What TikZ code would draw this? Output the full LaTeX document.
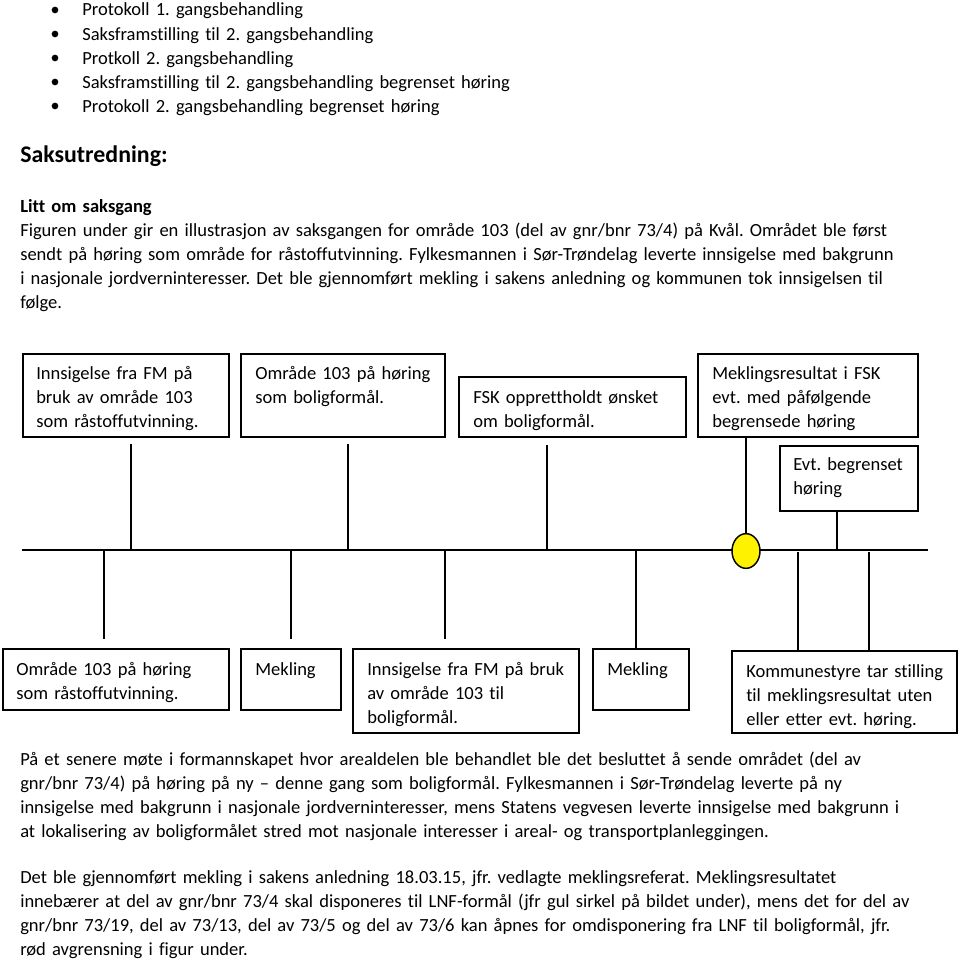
\documentclass[tikz,border=0pt]{standalone}
\usepackage{fontspec}
\setmainfont{Carlito}[Ligatures={TeX,NoCommon}]
\usetikzlibrary{fit,shapes.geometric}
\begin{document}
\frenchspacing
\begin{tikzpicture}[x=0.75pt,y=-0.75pt,
  box/.style={draw, line width=1.2pt, inner sep=0pt},
  txt/.style={anchor=base west, inner sep=0pt, align=left, text width=1000pt, font=\fontsize{13.9}{18}\selectfont},
  conn/.style={line width=1.1pt},
  bul/.style={circle, fill, inner sep=0pt, minimum size=5pt}]
\useasboundingbox[fill=white] (0,0) rectangle (960,960);
% bullet list
\node[bul] (u1) at (55,10) {};
\node[txt] (l1) at (82,16) {Protokoll 1. gangsbehandling};
\node[bul] (u2) at (55,34) {};
\node[txt] (l2) at (82,40) {Saksframstilling til 2. gangsbehandling};
\node[bul] (u3) at (55,58) {};
\node[txt] (l3) at (82,64) {Protkoll 2. gangsbehandling};
\node[bul] (u4) at (55,82) {};
\node[txt] (l4) at (82,88) {Saksframstilling til 2. gangsbehandling begrenset høring};
\node[bul] (u5) at (55,106) {};
\node[txt] (l5) at (82,112) {Protokoll 2. gangsbehandling begrenset høring};
% heading and intro
\node[txt, font=\fontsize{17.9}{22}\selectfont\bfseries] (head) at (20,162) {Saksutredning:};
\node[txt, font=\fontsize{13.9}{18}\selectfont\bfseries] (sub) at (20,212) {Litt om saksgang};
\node[txt] (p1) at (20,236) {Figuren under gir en illustrasjon av saksgangen for område 103 (del av gnr/bnr 73/4) på Kvål. Området ble først\\
sendt på høring som område for råstoffutvinning. Fylkesmannen i Sør-Trøndelag leverte innsigelse med bakgrunn\\
i nasjonale jordverninteresser. Det ble gjennomført mekling i sakens anledning og kommunen tok innsigelsen til\\
følge.};
% top boxes
\node[box, fit={(23,354) (229,437)}] (b1) {};
\node[txt] (b1t) at (36,379) {Innsigelse fra FM på\\bruk av område 103\\som råstoffutvinning.};
\node[box, fit={(241,354) (445,437)}] (b2) {};
\node[txt] (b2t) at (255,379) {Område 103 på høring\\som boligformål.};
\node[box, fit={(459,377) (686,437)}] (b3) {};
\node[txt] (b3t) at (473,403) {FSK opprettholdt ønsket\\om boligformål.};
\node[box, fit={(698,354) (918,437)}] (b4) {};
\node[txt] (b4t) at (712,379) {Meklingsresultat i FSK\\evt. med påfølgende\\begrensede høring};
\node[box, fit={(780,446) (918,511)}] (b5) {};
\node[txt] (b5t) at (793,470) {Evt. begrenset\\høring};
% timeline
\coordinate (tlL) at (22,550);
\coordinate (tlR) at (928,550);
\draw[conn] (tlL) -- (tlR);
\coordinate (a1) at (131,444);
\coordinate (a2) at (348,444);
\coordinate (a3) at (547,445);
\draw[conn] (a1) -- (a1 |- tlL);
\draw[conn] (a2) -- (a2 |- tlL);
\draw[conn] (a3) -- (a3 |- tlL);
\node[ellipse, draw, line width=1.1pt, fill=yellow, inner sep=0pt, minimum width=21pt, minimum height=26pt] (ell) at (746,551) {};
\draw[conn] (ell.north |- b4.south) -- (ell.north);
\coordinate (a5) at (837,550);
\draw[conn] (a5 |- b5.south) -- (a5);
% bottom boxes
\node[box, fit={(3,649) (229,710)}] (c1) {};
\node[txt] (c1t) at (16,675) {Område 103 på høring\\som råstoffutvinning.};
\node[box, fit={(241,649) (341,710)}] (c2) {};
\node[txt] (c2t) at (255,675) {Mekling};
\node[box, fit={(353,649) (579,733)}] (c3) {};
\node[txt] (c3t) at (367,675) {Innsigelse fra FM på bruk\\av område 103 til\\boligformål.};
\node[box, fit={(593,649) (689,710)}] (c4) {};
\node[txt] (c4t) at (607,675) {Mekling};
\node[box, fit={(732,651) (957,733)}] (c5) {};
\node[txt] (c5t) at (746,677) {Kommunestyre tar stilling\\til meklingsresultat uten\\eller etter evt. høring.};
% lines below timeline
\coordinate (d1) at (104,639);
\coordinate (d2) at (291,639);
\coordinate (d3) at (445,639);
\draw[conn] (d1 |- tlL) -- (d1);
\draw[conn] (d2 |- tlL) -- (d2);
\draw[conn] (d3 |- tlL) -- (d3);
\coordinate (d4) at (636,550);
\draw[conn] (d4) -- (d4 |- c4.north);
\coordinate (d5) at (798,552);
\coordinate (d6) at (869,552);
\draw[conn] (d5) -- (d5 |- c5.north);
\draw[conn] (d6) -- (d6 |- c5.north);
% closing text
\node[txt] (p2) at (20,765) {På et senere møte i formannskapet hvor arealdelen ble behandlet ble det besluttet å sende området (del av\\
gnr/bnr 73/4) på høring på ny – denne gang som boligformål. Fylkesmannen i Sør-Trøndelag leverte på ny\\
innsigelse med bakgrunn i nasjonale jordverninteresser, mens Statens vegvesen leverte innsigelse med bakgrunn i\\
at lokalisering av boligformålet stred mot nasjonale interesser i areal- og transportplanleggingen.};
\node[txt] (p3) at (20,883) {Det ble gjennomført mekling i sakens anledning 18.03.15, jfr. vedlagte meklingsreferat. Meklingsresultatet\\
innebærer at del av gnr/bnr 73/4 skal disponeres til LNF-formål (jfr gul sirkel på bildet under), mens det for del av\\
gnr/bnr 73/19, del av 73/13, del av 73/5 og del av 73/6 kan åpnes for omdisponering fra LNF til boligformål, jfr.\\
rød avgrensning i figur under.};
\end{tikzpicture}
\end{document}
